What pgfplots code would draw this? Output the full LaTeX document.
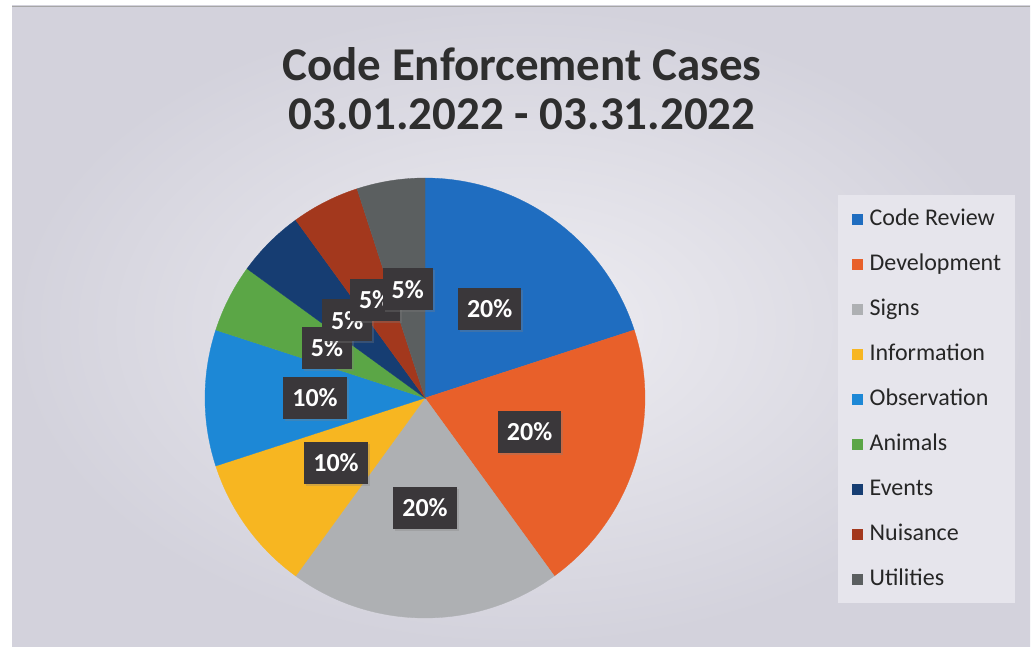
\documentclass[border=0pt]{standalone}
\usepackage{pgfplots}
\pgfplotsset{compat=1.18}
\usetikzlibrary{shadows}
\usepackage{fontspec}
\setmainfont{Carlito}
\definecolor{cr}{HTML}{1F6DC0}
\definecolor{dev}{HTML}{E8602A}
\definecolor{sig}{HTML}{AEB0B3}
\definecolor{inf}{HTML}{F7B621}
\definecolor{obs}{HTML}{1D88D6}
\definecolor{ani}{HTML}{5BA646}
\definecolor{evt}{HTML}{163D72}
\definecolor{nui}{HTML}{A3381D}
\definecolor{uti}{HTML}{5B5F60}
\definecolor{bglight}{HTML}{EEEDF2}
\definecolor{bgdark}{HTML}{D3D2DC}
\definecolor{legbg}{HTML}{E6E5EC}
\definecolor{labbg}{HTML}{3A373A}
\definecolor{titlec}{HTML}{2E2E2E}
% value / colour / name
\def\slices{20/cr/Code Review,20/dev/Development,20/sig/Signs,10/inf/Information,10/obs/Observation,5/ani/Animals,5/evt/Events,5/nui/Nuisance,5/uti/Utilities}
\begin{document}
\begin{tikzpicture}[x=1pt,y=1pt]
\fill[white] (0,0) rectangle (1034,646);
\shade[inner color=bglight, outer color=bgdark] (12,0) rectangle (1030,640);
\draw[gray!70, line width=0.8pt] (12,640) -- (1030,640);
\node[font=\fontsize{47}{47}\selectfont\bfseries, text=titlec] at (522,582) {Code Enforcement Cases};
\node[font=\fontsize{47}{47}\selectfont\bfseries, text=titlec] at (522,532) {03.01.2022 - 03.31.2022};
\begin{axis}[
  at={(425pt,248pt)}, anchor=center,
  scale only axis, width=440pt, height=440pt,
  xmin=-1, xmax=1, ymin=-1, ymax=1,
  hide axis, clip=false,
  legend image code/.code={\fill[#1] (0pt,-4.5pt) rectangle (9.5pt,5pt); \path (17pt,0pt);},
  legend cell align=left,
  legend style={at={(1.439,0.961)}, anchor=north west, fill=legbg, draw=none,
    font=\fontsize{24}{24}\selectfont, text=black!85,
    row sep=25pt, column sep=0pt, inner xsep=14pt, inner ysep=14pt,
    nodes={inner sep=0pt, text height=16pt, text depth=4pt}},
]
\gdef\cum{0}
\foreach \v/\c/\n in \slices {
  \pgfmathsetmacro\a{90-3.6*\cum}
  \pgfmathsetmacro\b{90-3.6*(\cum+\v)}
  \edef\tmp{\noexpand\addplot[fill=\c, draw=\c, line width=0.3pt, domain=\b:\a, samples=60] ({cos(x)},{sin(x)}) -- (axis cs:0,0) -- cycle;
    \noexpand\addlegendentry{\n}}
  \tmp
  \pgfmathsetmacro\nc{\cum+\v}
  \xdef\cum{\nc}
}
\gdef\cum{0}
\foreach \v/\c/\n in \slices {
  \pgfmathsetmacro\m{90-3.6*(\cum+\v/2)}
  \pgfmathsetmacro\lx{0.5*cos(\m)}
  \pgfmathsetmacro\ly{0.5*sin(\m)}
  \pgfmathtruncatemacro\vv{\v}
  \edef\tmp{\noexpand\node[fill=labbg, text=white, font=\noexpand\fontsize{26}{26}\noexpand\selectfont\noexpand\bfseries, inner xsep=9pt, minimum height=42pt, drop shadow={shadow xshift=2pt, shadow yshift=-2pt, opacity=0.3}] at (axis cs:\lx,\ly) {\vv\noexpand\%};}
  \tmp
  \pgfmathsetmacro\nc{\cum+\v}
  \xdef\cum{\nc}
}
\end{axis}
\end{tikzpicture}
\end{document}
